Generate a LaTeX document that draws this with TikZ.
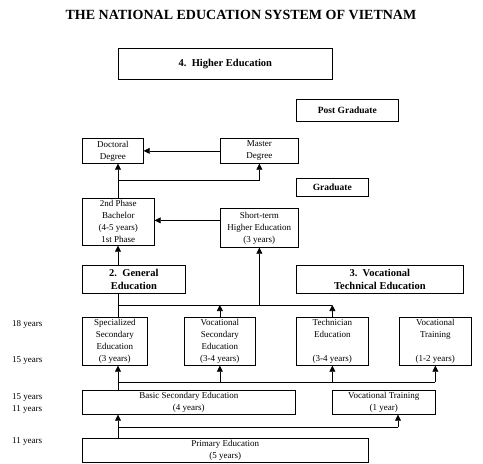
\documentclass[tikz,border=0pt]{standalone}
\usepackage{fontspec}
\setmainfont{Liberation Serif}
\usetikzlibrary{arrows.meta}
\tikzset{
	box/.style = {rectangle, draw = black, line width = 0.7pt, anchor = north west, align = center, inner sep = 1pt, font = \fontsize{9}{12}\selectfont},
	hdr/.style = {box, font = \fontsize{10.5}{13}\selectfont\bfseries},
	tag/.style = {box, font = \fontsize{9.5}{12}\selectfont\bfseries},
	wh/.style 2 args = {minimum width = #1, minimum height = #2},
	yrs/.style = {anchor = west, inner sep = 0pt, font = \fontsize{9}{12}\selectfont},
	link/.style = {draw = black, line width = 0.7pt},
	arrow/.style = {link, -{Triangle[length = 6pt, width = 6pt]}}
}

\begin{document}
\begin{tikzpicture}[x = 1pt, y = -1pt]
	\useasboundingbox (0,0) rectangle (483,464);
	
	%% title
	\node (title) [font = \fontsize{14}{16}\selectfont\bfseries, inner sep = 0pt] at (241,15) {THE NATIONAL EDUCATION SYSTEM OF VIETNAM};
	
	%% higher education
	\node (higher) [hdr, wh = {214pt}{31pt}] at (118,48) {4.\ \ Higher Education};
	\node (post) [tag, wh = {102pt}{22pt}] at (296,99) {Post Graduate};
	\node (grad) [tag, wh = {72pt}{18pt}] at (296,178) {Graduate};
	\node (doc) [box, wh = {61pt}{25pt}] at (82,138) {Doctoral\\Degree};
	\node (master) [box, wh = {78pt}{25pt}] at (220,138) {Master\\Degree};
	\node (bach) [box, wh = {72pt}{47pt}] at (82,198) {2nd Phase\\Bachelor\\(4-5 years)\\1st Phase};
	\node (short) [box, wh = {78pt}{39pt}] at (220,208) {Short-term\\Higher Education\\(3 years)};
	
	%% general and vocational
	\node (gen) [hdr, wh = {103pt}{28pt}] at (82,265) {2.\ \ General\\Education};
	\node (voctech) [hdr, wh = {167pt}{28pt}] at (296,265) {3.\ \ Vocational\\Technical Education};
	
	\node (spec) [box, wh = {65pt}{48pt}] at (82,317) {Specialized\\Secondary\\Education\\(3 years)};
	\node (vsec) [box, wh = {71pt}{48pt}] at (184,317) {Vocational\\Secondary\\Education\\(3-4 years)};
	\node (tech) [box, wh = {72pt}{48pt}] at (296,317) {Technician\\Education\\~\\(3-4 years)};
	\node (vtrain) [box, wh = {72pt}{48pt}] at (399,317) {Vocational\\Training\\~\\(1-2 years)};
	
	\node (basic) [box, wh = {213pt}{24pt}] at (82,390) {Basic Secondary Education\\(4 years)};
	\node (voc1) [box, wh = {103pt}{24pt}] at (332,390) {Vocational Training\\(1 year)};
	\node (prim) [box, wh = {286pt}{24pt}] at (82,438) {Primary Education\\(5 years)};
	
	%% ages
	\node (age18) [yrs] at (12,324) {18 years};
	\node (age15a) [yrs] at (12,360) {15 years};
	\node (age15b) [yrs] at (12,397) {15 years};
	\node (age11a) [yrs] at (12,409) {11 years};
	\node (age11b) [yrs] at (12,441) {11 years};
	
	%% arrows
	\coordinate (colA) at (118,0);
	\coordinate (jDeg) at (118,180);
	\coordinate (jGen) at (118,305);
	\coordinate (jSec) at (118,382);
	\coordinate (jPrim) at (118,427);
	
	\draw [arrow] (master.west) -- (master.west -| doc.east);
	\draw [arrow] (colA |- bach.north) -- (colA |- doc.south);
	\draw [arrow] (jDeg) -| (master.south);
	\draw [arrow] ([yshift = 7.5pt]short.west) -- ([yshift = 7.5pt]short.west -| bach.east);
	
	\draw [arrow] (colA |- gen.north) -- (colA |- bach.south);
	\draw [link] (colA |- spec.north) -- (colA |- gen.south);
	\draw [link] (jGen) -- (jGen -| tech.north);
	\draw [arrow] (jGen -| short.south) -- (short.south);
	\draw [arrow] (vsec.north) -- (vsec.north |- jGen);
	\draw [arrow] (tech.north) -- (tech.north |- jGen);
	
	\draw [link] (colA |- basic.north) -- (jSec) -- (jSec -| vtrain.south);
	\draw [arrow] (jSec) -- (colA |- spec.south);
	\foreach \n in {vsec, tech, vtrain}
		\draw [arrow] (jSec -| \n.south) -- (\n.south);
	
	\draw [arrow] (colA |- prim.north) -- (colA |- basic.south);
	\draw [link] (jPrim) -- (398,427) coordinate (jVoc);
	\draw [arrow] (jVoc) -- (jVoc |- voc1.south);
\end{tikzpicture}
\end{document}
